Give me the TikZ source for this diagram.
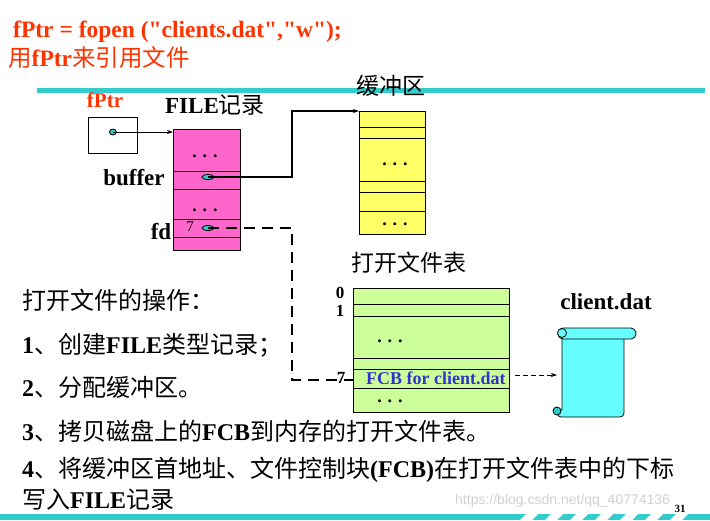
\documentclass[tikz,border=0pt]{standalone}
\usepackage{fontspec}
\setmainfont{Liberation Serif}
\newfontfamily\plainq{Liberation Serif}[Ligatures=TeXOff]
\newfontfamily\cjk{Noto Sans CJK SC}
\newfontfamily\wm{Liberation Sans}
\newcommand{\zh}[1]{{\cjk\mdseries #1}}
\usetikzlibrary{arrows.meta,calc,shapes.geometric}
\definecolor{teal1}{HTML}{33CCCC}
\definecolor{red1}{HTML}{FF3300}
\definecolor{pink1}{HTML}{FF66CC}
\definecolor{yel1}{HTML}{FFFF66}
\definecolor{grn1}{HTML}{CCFF99}
\definecolor{cyan1}{HTML}{66FFFF}
\definecolor{blue1}{HTML}{3333CC}
\begin{document}
\begin{tikzpicture}[x=1pt,y=-1pt,
  lbl/.style={inner sep=0pt,font=\fontsize{23}{25}\selectfont\bfseries},
  txt/.style={inner sep=0pt,anchor=west,font=\fontsize{24}{26}\selectfont\bfseries},
  dots/.style={inner sep=0pt,anchor=base,font=\fontsize{18}{18}\selectfont\bfseries},
  num/.style={inner sep=0pt,font=\fontsize{17}{17}\selectfont\bfseries},
  dot/.style={ellipse,draw,fill=teal1,line width=0.8pt,inner sep=0pt,minimum width=#1,minimum height=5pt},
  box/.style={draw,line width=0.7pt,inner sep=0pt,anchor=north west}]
\useasboundingbox (0,0) rectangle (710,520);
\fill[white] (0,0) rectangle (710,520);
% titles
\node[txt,text=red1,font=\fontsize{23.5}{26}\selectfont\bfseries\plainq] (t1) at (13,32) {fPtr = fopen ("clients.dat","w");};
\node[txt,text=red1,font=\fontsize{23.5}{26}\selectfont\bfseries] (t2) at (8,58) {\zh{用}fPtr\zh{来引用文件}};
\fill[teal1] (37,88) rectangle (705,93);
% labels
\node[lbl] (hc) at (391,86) {\zh{缓冲区}};
\node[lbl,text=red1,font=\fontsize{21}{23}\selectfont\bfseries] (fp) at (105,100) {fPtr};
\node[lbl] (fr) at (215,105) {FILE\zh{记录}};
% fPtr box
\node[box,minimum width=49pt,minimum height=36pt] (pb) at (88,117) {};
\node[dot=7pt,minimum height=6pt] (pd) at (113,132) {};
\node[box,fill=pink1,minimum width=67pt,minimum height=121pt] (pk) at (173,129) {};
\foreach \y in {171,189,219,237} \draw[line width=0.7pt] (173,\y) -- (240,\y);
\node[dots] (d1) at (205,157) {. . .};
\node[dots] (d2) at (205,211) {. . .};
\node[lbl] (bf) at (134,178) {buffer};
\node[lbl] (fd) at (161,232) {fd};
\node[inner sep=0pt,font=\fontsize{15}{15}\selectfont] (s7) at (190,227) {7};
\node[dot=12pt] (bd) at (208,177) {};
\node[dot=12pt] (fdd) at (208,228) {};
\draw[-{Stealth[length=6pt,width=4pt]},line width=0.7pt] (pd.center) -- (pk.north west |- pd);
% buffer box
\node[box,fill=yel1,minimum width=66pt,minimum height=123pt] (yb) at (359,111) {};
\foreach \y in {127,138,181,192,211} \draw[line width=0.7pt] (359,\y) -- (425,\y);
\node[dots] (d3) at (395,165) {. . .};
\node[dots] (d4) at (395,225) {. . .};
\coordinate (c1) at (292,177);
\coordinate (c2) at (292,111);
\draw[-{Stealth[length=6pt,width=4pt]},line width=1.3pt] (bd.center) -- (c1) -- (c2) -- (yb.north west);
% open file table
\node[lbl] (oft) at (409,263) {\zh{打开文件表}};
\node[box,fill=grn1,minimum width=156pt,minimum height=124pt] (gb) at (353,288) {};
\foreach \y in {304,316,358,369,388} \draw[line width=0.7pt] (353,\y) -- (509,\y);
\node[num] (n0) at (340,293) {0};
\node[num] (n1) at (340,311) {1};
\node[num] (n7) at (341,378) {7};
\node[dots] (d5) at (390,342) {. . .};
\node[dots] (d6) at (390,402) {. . .};
\node[inner sep=0pt,text=blue1,font=\fontsize{18}{18}\selectfont\bfseries,anchor=west] (fcb) at (366,378) {FCB for client.dat};
\coordinate (c3) at (292,228);
\coordinate (c4) at (292,380);
\draw[line width=1.3pt,dash pattern=on 11pt off 7pt] (fdd.center) -- (c3) -- (c4) -- (gb.west |- c4);
% scroll
\node[lbl] (cd) at (606,302) {client.dat};
\draw[fill=cyan1,line width=0.8pt,rounded corners=4pt] (562,333) -- (624,333) -- (624,417) -- (557,417) [sharp corners] -- (557,410) -- (562,410) -- cycle;
\draw[fill=cyan1,line width=0.8pt,rounded corners=5pt] (558,328) rectangle (636,339);
\draw[fill=cyan1,line width=0.8pt] (562,333) circle (4.5);
\draw[fill=teal1,line width=0.8pt] (557,411) circle (4);
\coordinate (sc) at (557,375);
\draw[-{Stealth[length=6pt,width=4pt]},line width=0.7pt,dash pattern=on 5pt off 3pt] (515,375) -- (sc);
% text list
\node[txt] (l0) at (22,300) {\zh{打开文件的操作：}};
\node[txt] (l1) at (22,345) {1\zh{、创建}FILE\zh{类型记录；}};
\node[txt] (l2) at (22,387) {2\zh{、分配缓冲区。}};
\node[txt] (l3) at (22,431) {3\zh{、拷贝磁盘上的}FCB\zh{到内存的打开文件表。}};
\node[txt] (l4) at (22,470) {4\zh{、将缓冲区首地址、文件控制块}(FCB)\zh{在打开文件表中的下标}};
\node[txt] (l5) at (22,500) {\zh{写入}FILE\zh{记录}};
\node[inner sep=0pt,anchor=west,text=black!18,font=\fontsize{14}{14}\selectfont\wm] (wmk) at (455,501) {https://blog.csdn.net/qq\_40774136};
\node[inner sep=0pt,font=\fontsize{11}{11}\selectfont\bfseries] (pg) at (680,509) {31};
\fill[teal1] (0,514) rectangle (710,520);
\foreach \x in {520,545,570,595,620,645,670} \fill[white] ({\x+6},514) -- ({\x+18},514) -- ({\x+12},520) -- (\x,520) -- cycle;
\end{tikzpicture}
\end{document}
